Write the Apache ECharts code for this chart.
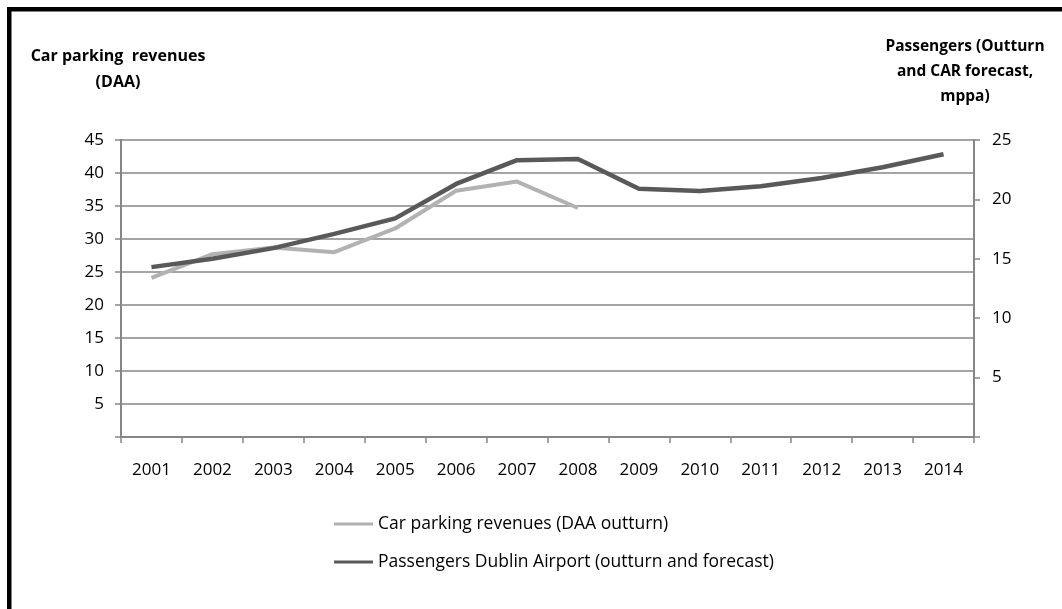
<!DOCTYPE html>
<html>
<head>
<meta charset="utf-8">
<script src="https://cdn.jsdelivr.net/npm/echarts@6/dist/echarts.min.js"></script>
<style>
  html, body { margin: 0; padding: 0; background: #fff; }
  #chart { width: 1062px; height: 609px; }
</style>
</head>
<body>
<div id="chart"></div>
<script>
// Years on the category axis
const years = ['2001', '2002', '2003', '2004', '2005', '2006', '2007', '2008',
               '2009', '2010', '2011', '2012', '2013', '2014'];

// Car parking revenues, DAA outturn (left axis)
const parkingRevenues = [24.1, 27.7, 28.7, 28.0, 31.6, 37.3, 38.7, 34.7];

// Passengers at Dublin Airport, outturn and forecast, mppa (right axis)
const passengers = [14.3, 15.0, 15.9, 17.1, 18.4, 21.3, 23.3, 23.4,
                    20.9, 20.7, 21.1, 21.8, 22.7, 23.8];

const leftTicks = { min: 0, max: 45, interval: 5 };
const rightTicks = { min: 0, max: 25, interval: 5 };

const seriesNames = ['Car parking revenues (DAA outturn)',
                     'Passengers Dublin Airport (outturn and forecast)'];

const FONT = 'Open Sans';
const axisGrey = '#868686';

const chart = echarts.init(document.getElementById('chart'));

const hideZero = v => (v === 0 ? '' : String(v));

chart.setOption({
  animation: false,
  backgroundColor: '#fff',
  textStyle: { fontFamily: FONT, color: '#000' },
  grid: { left: 121, right: 88, top: 140, bottom: 172 },
  xAxis: {
    type: 'category',
    data: years,
    boundaryGap: true,
    axisLine: { lineStyle: { color: axisGrey, width: 2 } },
    axisTick: { show: true, length: 6, lineStyle: { color: axisGrey, width: 1.5 } },
    axisLabel: { color: '#000', fontFamily: FONT, fontSize: 17, margin: 25 }
  },
  yAxis: [
    {
      type: 'value',
      min: leftTicks.min, max: leftTicks.max, interval: leftTicks.interval,
      axisLine: { show: true, lineStyle: { color: axisGrey, width: 2 } },
      axisTick: { show: true, length: 6, lineStyle: { color: axisGrey, width: 1.5 } },
      splitLine: { show: true, lineStyle: { color: axisGrey, width: 1.5 } },
      axisLabel: { color: '#000', fontFamily: FONT, fontSize: 17, margin: 17, formatter: hideZero }
    },
    {
      type: 'value',
      position: 'right',
      min: rightTicks.min, max: rightTicks.max, interval: rightTicks.interval,
      axisLine: { show: true, lineStyle: { color: axisGrey, width: 2 } },
      axisTick: { show: true, length: 6, lineStyle: { color: axisGrey, width: 1.5 } },
      splitLine: { show: false },
      axisLabel: { color: '#000', fontFamily: FONT, fontSize: 17, margin: 18, formatter: hideZero }
    }
  ],
  legend: {
    orient: 'vertical',
    left: 334,
    top: 515,
    padding: 0,
    itemWidth: 39,
    itemHeight: 3,
    itemGap: 20,
    icon: 'rect',
    textStyle: { fontFamily: FONT, fontSize: 17.5, color: '#000' },
    data: seriesNames
  },
  series: [
    {
      name: seriesNames[0],
      type: 'line',
      yAxisIndex: 0,
      data: parkingRevenues,
      symbol: 'none',
      lineStyle: { color: '#b2b2b2', width: 4 },
      itemStyle: { color: '#b2b2b2' },
      z: 2
    },
    {
      name: seriesNames[1],
      type: 'line',
      yAxisIndex: 1,
      data: passengers,
      symbol: 'none',
      lineStyle: { color: '#595959', width: 4.5 },
      itemStyle: { color: '#595959' },
      z: 3
    }
  ],
  graphic: [
    // frame edges along the top and left
    { type: 'rect', shape: { x: 7, y: 7, width: 1055, height: 4.5 }, style: { fill: '#000' } },
    { type: 'rect', shape: { x: 7, y: 7, width: 4.5, height: 602 }, style: { fill: '#000' } },
    {
      type: 'text',
      style: {
        text: 'Car parking  revenues\n(DAA)',
        x: 118, y: 43, textAlign: 'center',
        font: 'bold 16px "Open Sans"', fill: '#000', lineHeight: 26
      }
    },
    {
      type: 'text',
      style: {
        text: 'Passengers (Outturn\nand CAR forecast,\nmppa)',
        x: 965, y: 34, textAlign: 'center',
        font: 'bold 15.5px "Open Sans"', fill: '#000', lineHeight: 25
      }
    }
  ]
});
</script>
</body>
</html>
